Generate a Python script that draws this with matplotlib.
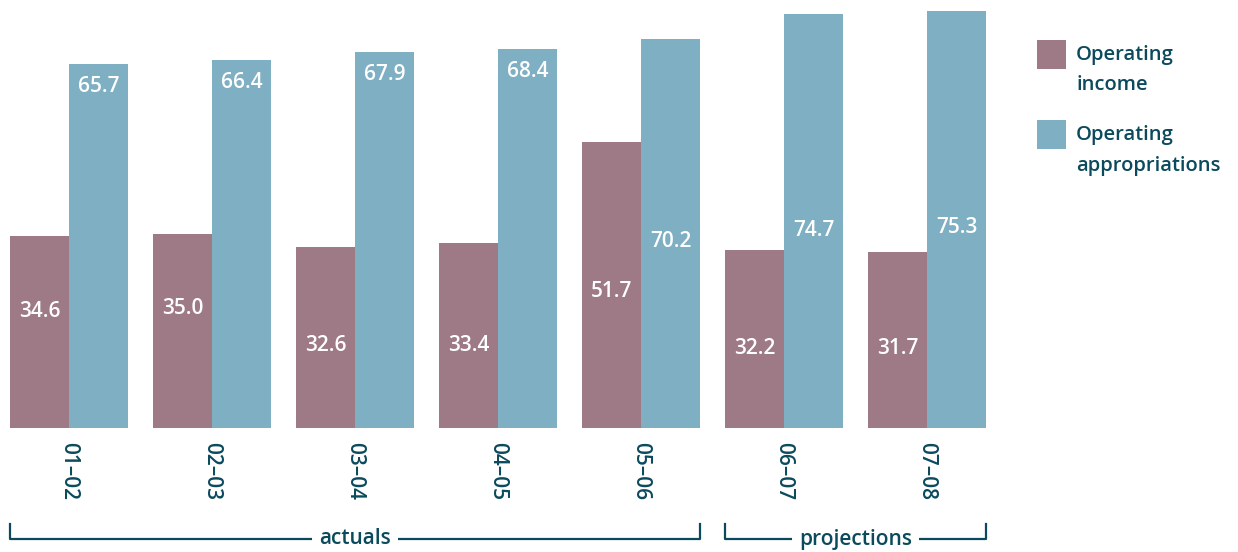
import matplotlib.pyplot as plt
import matplotlib.transforms as mtransforms
from matplotlib.patches import Rectangle
import numpy as np

years = ["01–02", "02–03", "03–04", "04–05", "05–06", "06–07", "07–08"]
income = [34.6, 35.0, 32.6, 33.4, 51.7, 32.2, 31.7]
appropriations = [65.7, 66.4, 67.9, 68.4, 70.2, 74.7, 75.3]
series_names = ["Operating\nincome", "Operating\nappropriations"]
groups = [("actuals", 0, 4), ("projections", 5, 6)]

# where the value labels sit (data units), as in the original
income_label_y = [21.0, 21.6, 14.9, 14.9, 24.6, 14.3, 14.3]
approp_label_y = [61.6, 62.3, 63.8, 64.3, 33.7, 35.7, 36.2]

PINK = "#9e7986"
BLUE = "#7fafc3"
TEXT = "#0b4a5c"
plt.rcParams['font.family'] = ['Open Sans', 'DejaVu Sans']

W, H = 1238, 552
fig = plt.figure(figsize=(W / 100, H / 100), dpi=100)

bw = 59 / 143
ax = fig.add_axes([10 / W, 124 / H, 976 / W, 421 / H])
x = np.arange(len(years))
ax.bar(x - bw / 2, income, bw, color=PINK)
ax.bar(x + bw / 2, appropriations, bw, color=BLUE)
ax.set_xlim(-bw, len(years) - 1 + bw)
ax.set_ylim(0, 76)
ax.axis("off")

for i in range(len(years)):
    ax.text(x[i] - bw / 2, income_label_y[i], f"{income[i]:.1f}", color="white",
            ha="center", va="center", fontsize=15, fontweight="semibold")
    ax.text(x[i] + bw / 2, approp_label_y[i], f"{appropriations[i]:.1f}", color="white",
            ha="center", va="center", fontsize=15, fontweight="semibold")
    ax.text(x[i], -2.5, years[i], color=TEXT, rotation=-90, ha="center", va="top",
            fontsize=15, fontweight="semibold")

# brackets under the category labels
fig_tr = fig.transFigure
bt = mtransforms.blended_transform_factory(ax.transData, fig_tr)
ybr = (552 - 539) / H
ytop = (552 - 524) / H
for name, a, b in groups:
    x0 = a - bw
    x1 = b + bw
    xm = (x0 + x1) / 2
    ax.text(xm, ybr, name, transform=bt, ha="center", va="center", color=TEXT,
            fontsize=15, fontweight="semibold", zorder=3,
            bbox=dict(facecolor="white", edgecolor="none", pad=5))
    ax.plot([x0, x0, x1, x1], [ytop, ybr, ybr, ytop], transform=bt, color=TEXT,
            lw=1.6, clip_on=False, zorder=1)

# legend
for k, (name, col) in enumerate(zip(series_names, [PINK, BLUE])):
    y0 = (552 - 69 - 80 * k) / H
    fig.patches.append(Rectangle((1037 / W, y0), 29 / W, 29 / H, transform=fig_tr,
                                 facecolor=col, edgecolor="none"))
    fig.text(1076 / W, (552 - 45 - 80 * k) / H, name, color=TEXT, fontsize=14.5,
             ha="left", va="top", linespacing=1.7, fontweight="semibold")

fig.savefig("out.png", dpi=100)
